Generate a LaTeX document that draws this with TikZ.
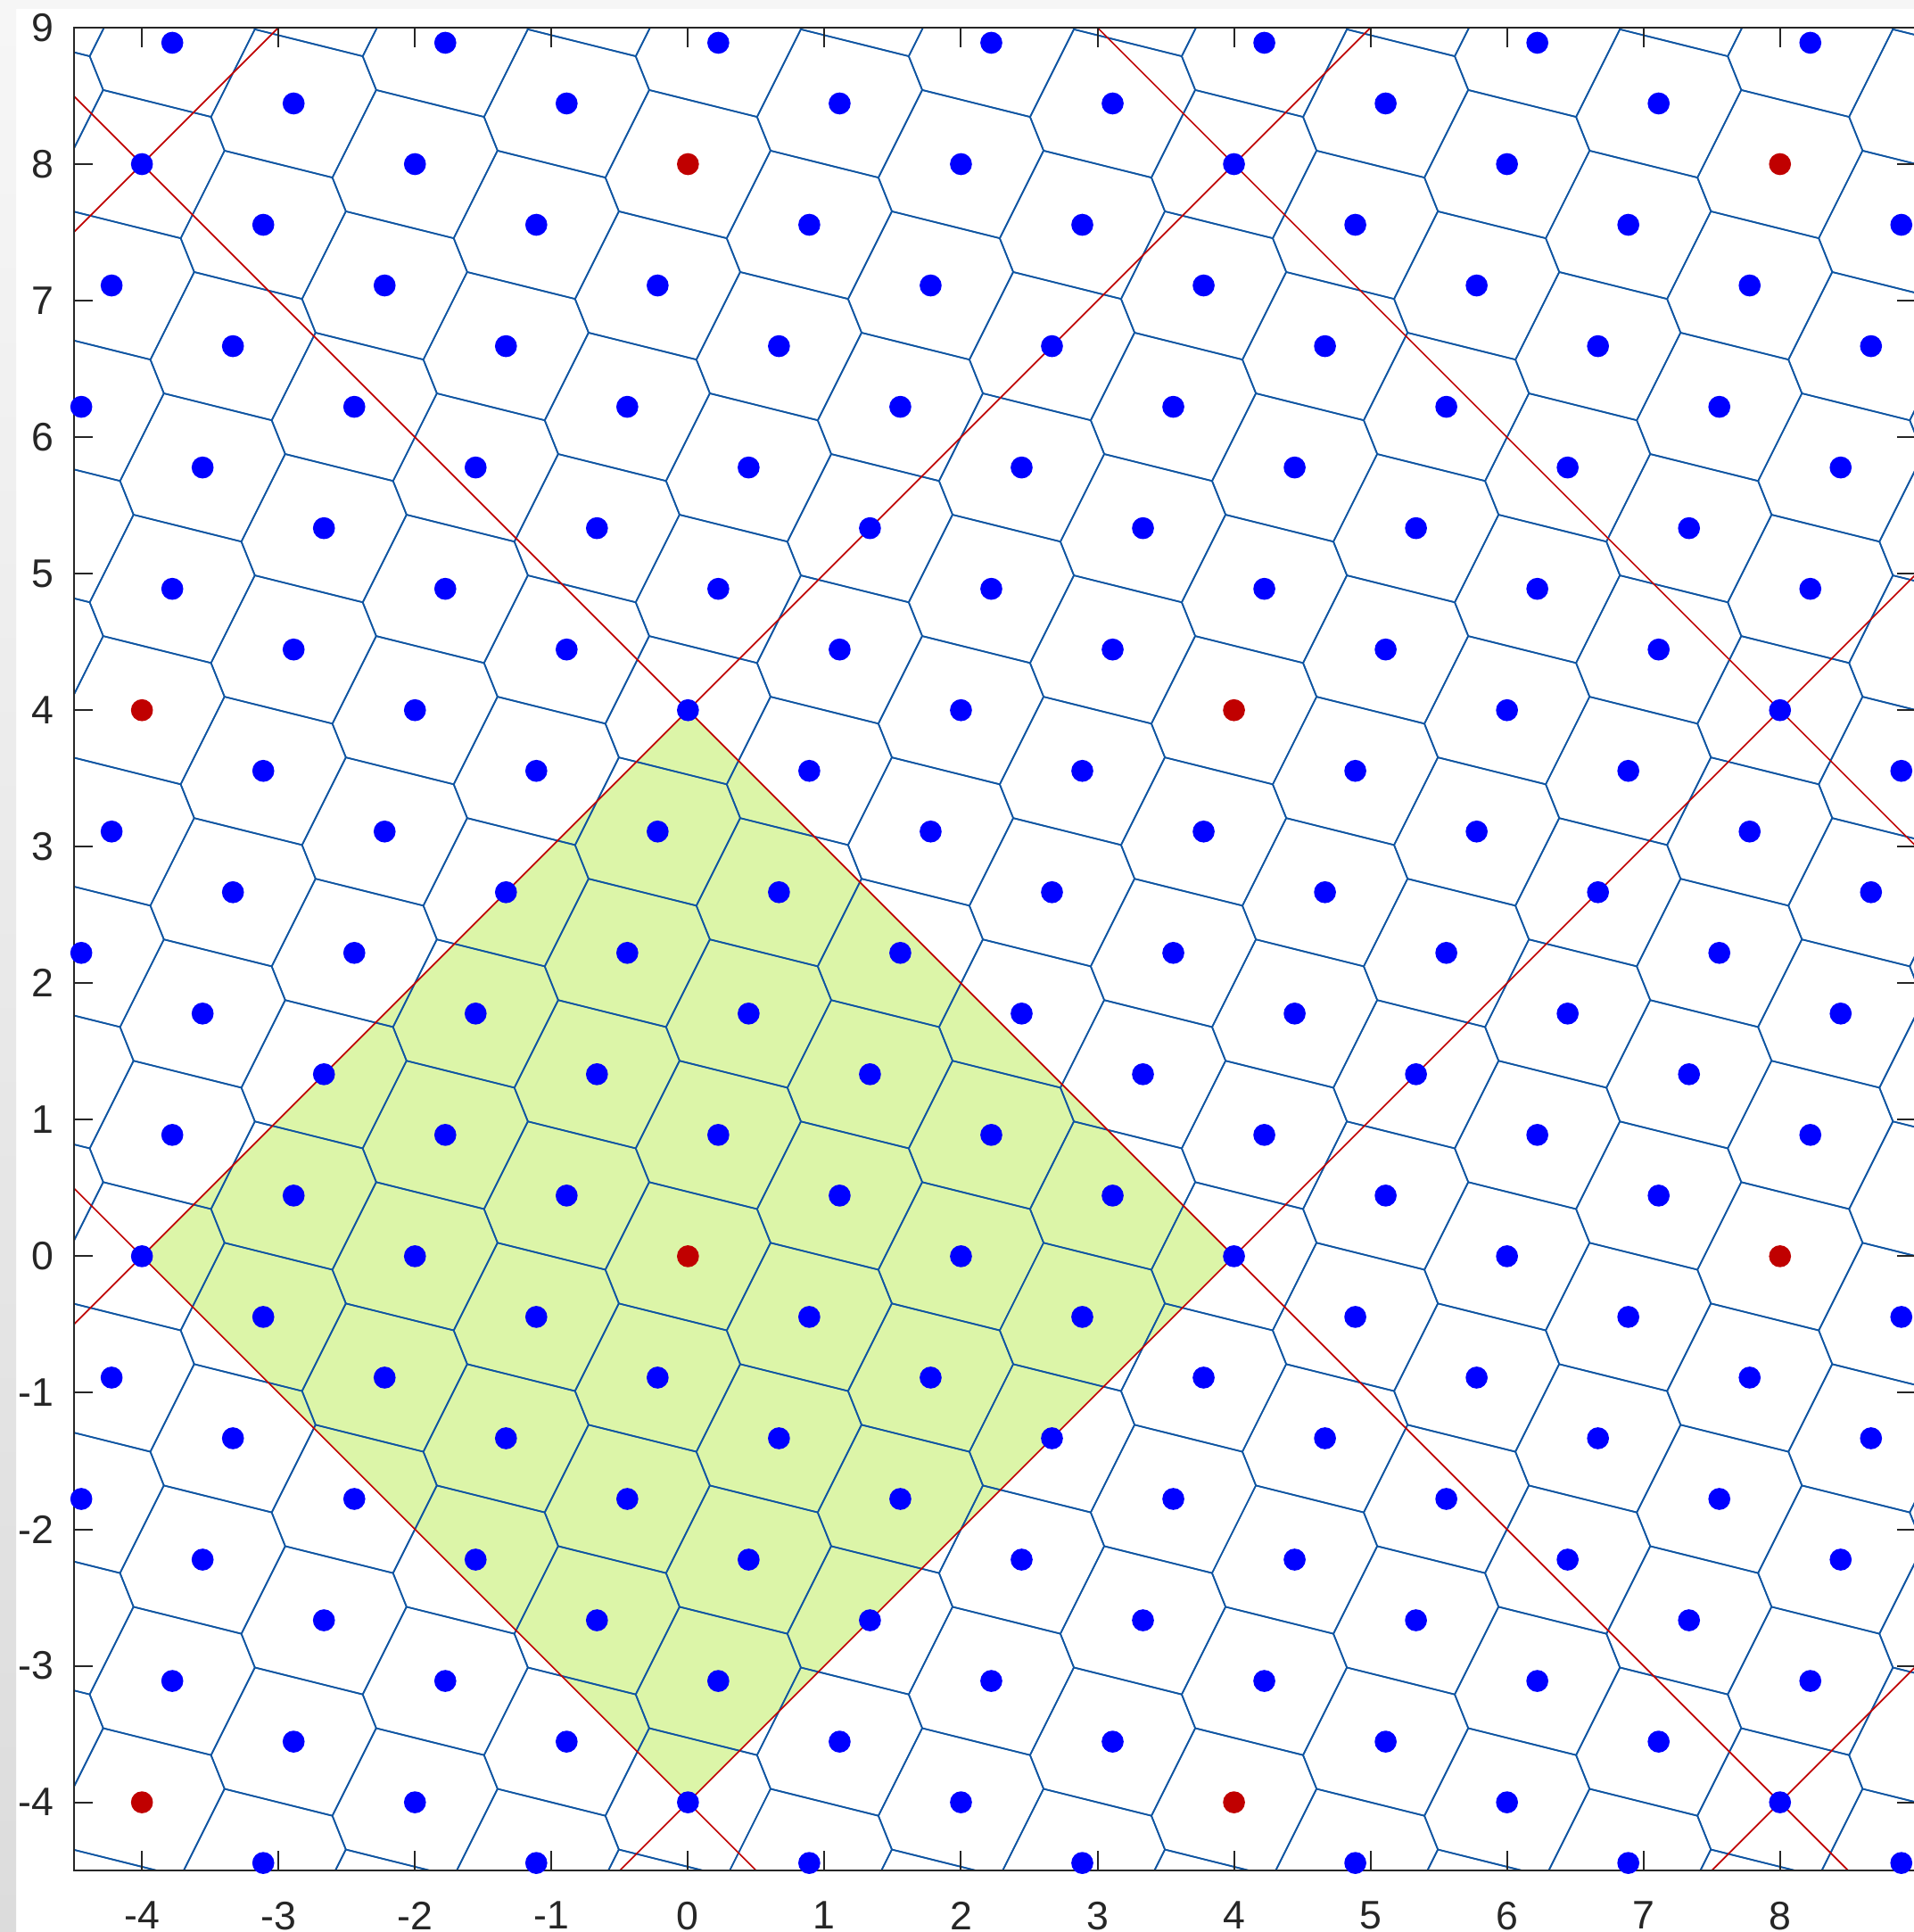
\documentclass[tikz,border=0pt]{standalone}
\usepackage{fontspec}
\setmainfont{Liberation Sans}
\usepackage{tikz}
\usetikzlibrary{calc}
\definecolor{latBlue}{HTML}{0000FF}
\definecolor{latRed}{HTML}{C00000}
\definecolor{cellBlue}{HTML}{0F55A2}
\definecolor{tileGreen}{HTML}{DCF5A8}
\definecolor{axisDark}{HTML}{262626}
\definecolor{stripTop}{HTML}{F6F6F6}
\definecolor{stripBottom}{HTML}{DCDCDC}

\begin{document}
\begin{tikzpicture}[
    celda/.style={cellBlue, line width=0.31pt, line join=round},
    linea/.style={latRed, line width=0.31pt},
    eje/.style={axisDark, line width=0.37pt},
    etiqueta/.style={inner sep=0pt, text=axisDark, font=\fontsize{8.3}{10}\selectfont}
  ]
        % marco
        \clip (-5.04,-4.95) rectangle (8.98,9.2025);
        \fill[white] (-5.04,-4.95) rectangle (8.98,9.2025);
        \fill[stripTop] (-5.04,9.137) rectangle (8.98,9.2025);
        \shade[top color=stripTop, bottom color=stripBottom] (-5.04,-4.95) rectangle (-4.922,9.137);
        % region fundamental
        \fill[tileGreen] (0,4) -- (4,0) -- (0,-4) -- (-4,0) -- cycle;
        % celdas de Voronoi
        \begin{scope}
          \clip (-4.5,-4.5) rectangle (9,9);
          \foreach \k in {-11,...,21} {
            \pgfmathtruncatemacro\mo{round(4*\k/9)}
            \foreach \j in {-3,...,5} {
              \pgfmathsetmacro\px{2*(\j+\mo)-8*\k/9}
              \pgfmathsetmacro\py{4*\k/9}
              \draw[celda, shift={(\px,\py)}] (0.506,0.346) -- (-0.284,0.543) -- (-0.605,-0.099)
                -- (-0.506,-0.346) -- (0.284,-0.543) -- (0.605,0.099) -- cycle;
            }
          }
          % superred
          \foreach \c in {-4,4,12}
            \draw[linea] ({\c-14},14) -- ({\c+14},-14);
          \foreach \d in {-12,-4,4,12}
            \draw[linea] (-14,{\d-14}) -- (14,{\d+14});
        \end{scope}
        % ejes
        \draw[eje] (-4.5,-4.5) rectangle (9,9);
        \foreach \x [count=\i] in {-4,...,8} {
          \draw[eje] (\x,-4.5) -- ++(0,0.142);
          \draw[eje] (\x,9) -- ++(0,-0.142);
          \node[etiqueta, anchor=north] (xlab\i) at (\x,-4.72) {\x};
        }
        \foreach \y [count=\i] in {-4,...,9} {
          \draw[eje] (-4.5,\y) -- ++(0.142,0);
          \draw[eje] (9,\y) -- ++(-0.142,0);
          \node[etiqueta, anchor=east] (ylab\i) at (-4.64,\y) {\y};
        }
        % puntos de la red
        \begin{scope}
          \clip (-4.57,-4.57) rectangle (9.07,9.07);
          \foreach \k in {-11,...,21} {
            \pgfmathtruncatemacro\mo{round(4*\k/9)}
            \pgfmathtruncatemacro\rr{mod(\k+99,9)}
            \pgfmathtruncatemacro\tq{round(\k/9)}
            \foreach \j in {-3,...,5} {
              \pgfmathsetmacro\px{2*(\j+\mo)-8*\k/9}
              \pgfmathsetmacro\py{4*\k/9}
              \pgfmathtruncatemacro\isred{(\rr==0)&&(mod(\j-2*\tq+40,4)==0)}
              \ifnum\isred=1
                \fill[latRed] (\px,\py) circle (0.0806);
              \else
                \fill[latBlue] (\px,\py) circle (0.0806);
              \fi
            }
          }
        \end{scope}
      \end{tikzpicture}
\end{document}
